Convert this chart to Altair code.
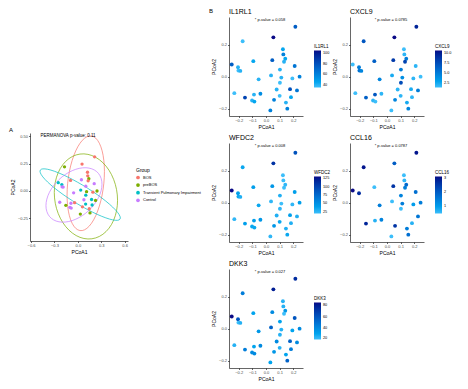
import altair as alt
import pandas as pd
import numpy as np

FONT = "Liberation Sans"

# ---- data ----
pc1 = [0.215, 0.054, -0.171, 0.124, 0.127, 0.141, 0.132, 0.046, -0.093, -0.251, -0.205, -0.202,
       -0.188, 0.210, 0.102, 0.246, 0.193, 0.112, 0.037, -0.054, 0.102, 0.078, 0.176, 0.227,
       -0.232, -0.088, -0.041, 0.100, 0.183, -0.154, -0.102, -0.085, 0.059, 0.146, 0.156, 0.032]
pc2 = [0.312, 0.246, 0.221, 0.171, 0.139, 0.112, 0.093, 0.103, 0.097, 0.076, 0.059, 0.038,
       0.036, 0.067, 0.044, 0.000, -0.011, -0.006, 0.008, -0.017, -0.038, -0.080, -0.078, -0.086,
       -0.103, -0.112, -0.107, -0.120, -0.128, -0.131, -0.149, -0.156, -0.145, -0.162, -0.200, -0.211]
TPI = "Transient Pulmonary Impairment"
group = ["BOS", "BOS", "preBOS", "BOS", "BOS", "preBOS", "BOS", "Control", "BOS", TPI, TPI, "Control",
         "Control", "Control", "Control", "preBOS", "BOS", "preBOS", TPI, "Control", TPI, "Control", TPI, "preBOS",
         "Control", "Control", "BOS", TPI, TPI, "preBOS", "Control", "Control", "BOS", "BOS", "preBOS", "preBOS"]
group_order = ["BOS", "preBOS", TPI, "Control"]
group_colors = ["#F8766D", "#7CAE00", "#00BFC4", "#C77CFF"]

il1rl1 = [75, 105, 35, 45, 60, 45, 40, 75, 45, 75, 40, 35, 40, 65, 40, 60, 35, 40, 40, 40, 35, 40, 80, 65,
          35, 40, 55, 35, 45, 85, 40, 45, 60, 40, 60, 60]
cxcl9 = [9.5, 10.5, 7, 1.5, 2, 5, 8, 8.5, 6.5, 1.5, 5, 5.5, 4.5, 2, 5, 1.5, 2, 4, 2.5, 4.5, 7.5, 2, 2.5, 5,
         1.5, 7, 2, 2, 2, 6.5, 2, 1.5, 4.5, 2.5, 4.5, 1.5]
wfdc2 = [90, 110, 35, 20, 20, 25, 20, 45, 40, 130, 40, 35, 30, 40, 30, 40, 25, 20, 25, 35, 25, 30, 40, 30,
         25, 40, 45, 35, 30, 40, 35, 35, 45, 30, 35, 25]
ccl16 = [3.0, 2.0, 3.0, 0.5, 0.6, 1.8, 1.5, 2.6, 0.5, 3.1, 2.7, None, None, 1.7, 1.4, 1.5, 1.0, 1.5, 0.5, 1.5,
         0.5, None, None, 1.6, None, 0.7, 1.4, None, 0.7, 2.8, None, None, 2.6, 1.5, 1.7, 0.5]
dkk3 = [75, 80, 45, 25, 25, 35, 20, 40, 30, 85, 60, 20, 25, 60, 30, 40, 30, 25, 55, 35, 25, 40, 55, 40,
        25, 30, 40, 25, 45, 45, 40, 40, 35, 30, 55, 30]

genes = ["IL1RL1", "CXCL9", "WFDC2", "CCL16", "DKK3"]
pvals = ["* p-value = 0.058", "* p-value = 0.0785", "* p-value = 0.008", "* p-value = 0.0787", "* p-value = 0.027"]
legend_ticks = [[40, 60, 80, 100], [2.5, 5.0, 7.5, 10.0], [25, 50, 75, 100, 125], [1, 2, 3], [20, 40, 60, 80]]
legend_fmt = ["d", ".1f", "d", "d", "d"]
values = [il1rl1, cxcl9, wfdc2, ccl16, dkk3]
permanova = "PERMANOVA p-value: 0.11"

LOW, HIGH = "#3CBEFA", "#0A0A86"

# ---- stat_ellipse (type "t", level 0.95) computed from the points ----
def cov_trob(x, nu=5, maxit=25, tol=0.01):
    n, p = x.shape
    wt = np.ones(n)
    loc = x.mean(0)
    w = np.sqrt(wt)
    X = x - loc
    for _ in range(maxit):
        w0 = w
        X = x - loc
        _, d, vt = np.linalg.svd(np.sqrt(w / w.sum())[:, None] * X, full_matrices=False)
        wX = X @ vt.T @ np.diag(1 / d)
        Q = (wX ** 2).sum(1)
        w = (wt * (nu + p)) / (nu + Q)
        loc = (w[:, None] * x).sum(0) / w.sum()
        if np.all(np.abs(w - w0) < tol):
            break
    sx = np.sqrt(w)[:, None] * X
    return loc, sx.T @ sx / wt.sum()

ell_rows = []
pts = pd.DataFrame({"PCoA1": pc1, "PCoA2": pc2, "Group": group})
for g in group_order:
    xy = pts.loc[pts.Group == g, ["PCoA1", "PCoA2"]].to_numpy()
    n = len(xy)
    loc, cov = cov_trob(xy)
    m = n - 1
    f = (m / 2) * (0.05 ** (-2 / m) - 1)
    r = np.sqrt(2 * f)
    R = np.linalg.cholesky(cov).T
    ang = np.linspace(0, 2 * np.pi, 51)
    circ = np.column_stack([np.cos(ang), np.sin(ang)])
    e = loc + r * circ @ R
    for i, (ex, ey) in enumerate(e):
        ell_rows.append({"PCoA1": ex, "PCoA2": ey, "Group": g, "i": i})
ell = pd.DataFrame(ell_rows)

# ---- panel A (cell height 98, plot raised 10px above the cell top) ----
AW, AH, ARAISE = 98, 98, 10
ax = alt.X("PCoA1:Q", scale=alt.Scale(domain=[-0.613, 0.643], nice=False, zero=False),
           axis=alt.Axis(values=[-0.6, -0.3, 0.0, 0.3, 0.6], format=".1f", title="PCoA1"))
ay = alt.Y("PCoA2:Q", scale=alt.Scale(domain=[-0.457, 0.53], nice=False, zero=False, range=[AH, -ARAISE]),
           axis=alt.Axis(values=[-0.25, 0.0, 0.25, 0.5], format=".2f", title="PCoA2"))
gcol = alt.Color("Group:N", scale=alt.Scale(domain=group_order, range=group_colors),
                 legend=alt.Legend(title="Group", orient="none", legendX=106, legendY=25,
                                   symbolType="circle", symbolSize=14, symbolStrokeWidth=0,
                                   labelFontSize=4, titleFontSize=5, rowPadding=3.6,
                                   titlePadding=2.5, labelOffset=3, labelColor="black"))
a_pts = alt.Chart(pts).mark_circle(size=11, opacity=1).encode(x=ax, y=ay, color=gcol)
a_ell = alt.Chart(ell).mark_line(strokeWidth=0.7).encode(
    x=ax, y=ay, color=gcol, detail="Group:N", order="i:Q")
a_txt = alt.Chart(pd.DataFrame({"t": [permanova]})).mark_text(
    fontSize=4.5, font=FONT, align="center", baseline="middle", color="black").encode(
    text="t:N", x=alt.value(38), y=alt.value(3 - ARAISE))
a_lab = alt.Chart(pd.DataFrame({"t": ["A"]})).mark_text(
    fontSize=6, font=FONT, align="center", baseline="middle", color="black").encode(
    text="t:N", x=alt.value(-19), y=alt.value(-3 - ARAISE))
panelA = alt.layer(a_ell, a_pts, a_txt, a_lab).properties(width=AW, height=AH)


def spacer(w, h, label=None):
    sp = alt.Chart(pd.DataFrame({"z": [0]})).mark_point(opacity=0).encode(
        x=alt.X("z:Q", axis=None), y=alt.Y("z:Q", axis=None)).properties(width=w, height=h)
    if label is None:
        return sp
    lab = alt.Chart(pd.DataFrame({"t": [label]})).mark_text(
        fontSize=6, font=FONT, align="center", baseline="middle", color="black").encode(
        text="t:N", x=alt.value(36), y=alt.value(-6))
    return alt.layer(sp, lab).properties(width=w, height=h)

# ---- panels B ----
BW, BH = 74, 99

def b_panel(k):
    df = pd.DataFrame({"PCoA1": pc1, "PCoA2": pc2, "v": values[k]}).dropna()
    p = alt.Chart(df).mark_circle(size=15, opacity=1).encode(
        x=alt.X("PCoA1:Q", scale=alt.Scale(domain=[-0.271, 0.271], nice=False, zero=False),
                axis=alt.Axis(values=[-0.2, -0.1, 0.0, 0.1, 0.2], format=".1f", title="PCoA1")),
        y=alt.Y("PCoA2:Q", scale=alt.Scale(domain=[-0.246, 0.373], nice=False, zero=False),
                axis=alt.Axis(values=[-0.2, 0.0, 0.2], format=".1f", title="PCoA2")),
        color=alt.Color("v:Q", title=genes[k], scale=alt.Scale(range=[LOW, HIGH]),
                        legend=alt.Legend(values=legend_ticks[k], format=legend_fmt[k], orient="none",
                                          legendX=85, legendY=27, gradientLength=37, gradientThickness=7,
                                          labelFontSize=3.8, titleFontSize=4.5, titlePadding=2,
                                          labelOffset=2, labelColor="black")))
    t = alt.Chart(pd.DataFrame({"t": [pvals[k]]})).mark_text(
        fontSize=4, font=FONT, align="center", baseline="middle", color="black").encode(
        text="t:N", x=alt.value(41), y=alt.value(3))
    return alt.layer(p, t).properties(
        width=BW, height=BH,
        title=alt.TitleParams(genes[k], anchor="start", frame="group", fontSize=7, fontWeight="normal",
                              font=FONT, offset=2, color="black"))

cells = [spacer(AW, 89), spacer(7, 99, "B"), b_panel(0), b_panel(1),
         panelA, spacer(7, 99), b_panel(2), b_panel(3),
         spacer(AW, 10), spacer(7, 99), b_panel(4), spacer(BW, 99)]

chart = alt.concat(*cells, columns=4, spacing={"row": 27, "column": 47},
                   bounds="flush", align="none").resolve_scale(
    x="independent", y="independent", color="independent").properties(padding=0).configure_view(
    stroke=None).configure_axis(
    labelFontSize=4, titleFontSize=5, titleFontWeight="normal", labelColor="#4D4D4D", titleColor="black",
    domainColor="black", tickColor="black", tickSize=1.5, labelPadding=1, titlePadding=2, grid=False,
    labelFont=FONT, titleFont=FONT, domainWidth=0.6, tickWidth=0.6).configure_legend(
    labelFont=FONT, titleFont=FONT, titleFontWeight="normal", titleColor="black").configure_text(font=FONT)

chart.save("out.html", embed_options={"renderer": "svg", "actions": False})
